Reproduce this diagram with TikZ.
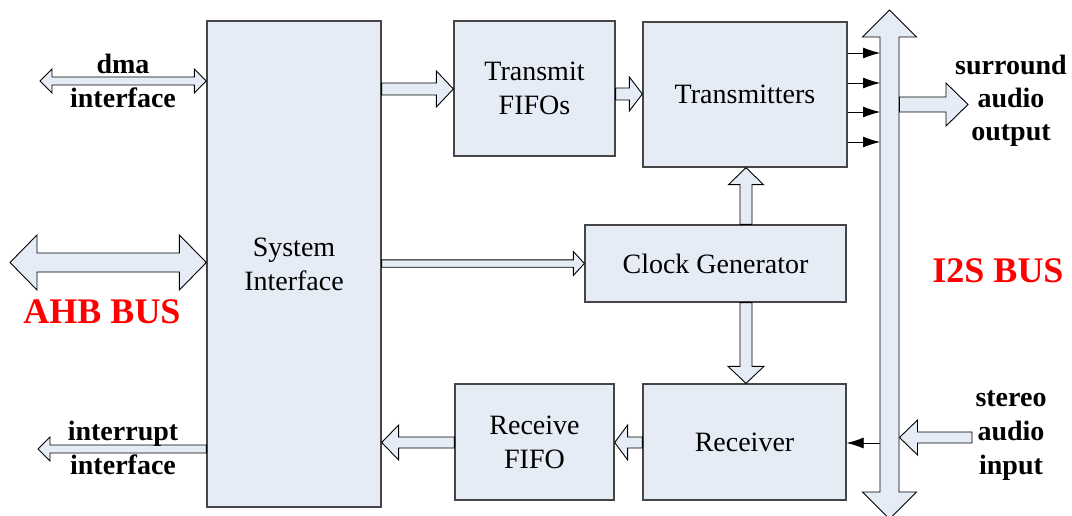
\documentclass[tikz,border=0pt]{standalone}
\usepackage{fontspec}
\setmainfont{Liberation Serif}
\usetikzlibrary{calc,arrows.meta}
\definecolor{boxfill}{RGB}{230,236,246}
\definecolor{boxline}{RGB}{70,70,70}
\definecolor{busred}{RGB}{255,0,0}
% hollow block arrow: from, to, half shaft, half head, head length
\newcommand\blkarrow[5]{%
  \coordinate (ba-s) at (#1); \coordinate (ba-e) at (#2);
  \coordinate (ba-h) at ($(ba-e)!#5!(ba-s)$);
  \filldraw[blkarr] ($(ba-s)!#3!90:(ba-e)$) -- ($(ba-h)!#3!90:(ba-e)$) -- ($(ba-h)!#4!90:(ba-e)$) -- (ba-e)
    -- ($(ba-h)!#4!-90:(ba-e)$) -- ($(ba-h)!#3!-90:(ba-e)$) -- ($(ba-s)!#3!-90:(ba-e)$) -- cycle;}
% hollow double arrow: end a, end b, half shaft, half head, head length
\newcommand\dblarrow[5]{%
  \coordinate (da-a) at (#1); \coordinate (da-b) at (#2);
  \coordinate (da-ha) at ($(da-a)!#5!(da-b)$); \coordinate (da-hb) at ($(da-b)!#5!(da-a)$);
  \filldraw[blkarr] (da-a) -- ($(da-ha)!#4!90:(da-b)$) -- ($(da-ha)!#3!90:(da-b)$) -- ($(da-hb)!#3!-90:(da-a)$)
    -- ($(da-hb)!#4!-90:(da-a)$) -- (da-b) -- ($(da-hb)!#4!90:(da-a)$) -- ($(da-hb)!#3!90:(da-a)$)
    -- ($(da-ha)!#3!-90:(da-b)$) -- ($(da-ha)!#4!-90:(da-b)$) -- cycle;}
\begin{document}
\begin{tikzpicture}[x=1pt, y=-1pt, line join=miter,
    blk/.style={draw=boxline, fill=boxfill, line width=1.3pt, align=center, inner sep=0pt, font=\fontsize{28}{34}\selectfont},
    blkarr/.style={draw=black, fill=boxfill, line width=0.9pt},
    lbl/.style={anchor=base, inner sep=0pt, font=\fontsize{28}{34}\selectfont\bfseries},
    buslbl/.style={text=busred, inner sep=0pt, font=\fontsize{36}{40}\selectfont\bfseries},
    sig/.style={-{Latex[length=17pt,width=11pt]}, line width=0.8pt}]
  \useasboundingbox (0,0) rectangle (1072,516);
  % blocks
  \node[blk, minimum width=174, minimum height=486] (sys) at (294,264) {System\\Interface};
  \node[blk, minimum width=161, minimum height=135] (tf) at (534.5,88.5) {Transmit\\FIFOs};
  \node[blk, minimum width=204, minimum height=145] (tr) at (745,94.5) {Transmitters};
  \node[blk, minimum width=261, minimum height=77] (clk) at (715.5,263.5) {Clock Generator};
  \node[blk, minimum width=159, minimum height=116] (rf) at (534.5,442) {Receive\\FIFO};
  \node[blk, minimum width=203, minimum height=116] (rx) at (744.5,442) {Receiver};
  % free ends
  \coordinate (ahbL) at (10,262.5);
  \coordinate (dmaL) at (40,81);
  \coordinate (intL) at (38,449);
  \coordinate (busT) at (889.5,10);
  \coordinate (busB) at (889.5,519);
  \coordinate (bus) at (880,0);
  \coordinate (busR) at (899.5,0);
  \coordinate (outT) at (968,104.5);
  \coordinate (inT) at (972,437.5);
  % left side
  \dblarrow{ahbL}{sys.west |- ahbL}{9.5pt}{27.5pt}{27pt}
  \dblarrow{dmaL}{sys.west |- dmaL}{4pt}{12pt}{12pt}
  \blkarrow{sys.west |- intL}{intL}{4pt}{12pt}{12pt}
  % data paths
  \blkarrow{sys.east |- 0,89}{tf.west |- 0,89}{6pt}{18pt}{17pt}
  \blkarrow{tf.east |- 0,94}{tr.west |- 0,94}{6pt}{17pt}{13pt}
  \blkarrow{sys.east |- clk}{clk.west}{3.7pt}{12pt}{11pt}
  \blkarrow{clk.north -| 746,0}{tr.south -| 746,0}{6pt}{17.5pt}{17pt}
  \blkarrow{clk.south -| 746,0}{rx.north -| 746,0}{6pt}{18pt}{17pt}
  \blkarrow{rx.west |- 0,442.5}{rf.east |- 0,442.5}{5.5pt}{17.5pt}{13pt}
  \blkarrow{rf.west |- 0,442.5}{sys.east |- 0,442.5}{5.5pt}{17.5pt}{17pt}
  % I2S bus
  \dblarrow{busT}{busB}{9.5pt}{27pt}{27pt}
  \foreach \y in {53,83,112,142}
    \draw[sig] (tr.east |- 0,\y) -- (bus |- 0,\y);
  \draw[sig] (bus |- 0,443) -- (rx.east |- 0,443);
  \blkarrow{busR |- outT}{outT}{7.5pt}{21.5pt}{22pt}
  \blkarrow{inT}{busR |- inT}{5.5pt}{17.5pt}{18pt}
  % labels
  \node[lbl] (dmaA) at (123,74) {dma};
  \node[lbl] (dmaB) at (123,108) {interface};
  \node[lbl] (intA) at (123,440) {interrupt};
  \node[lbl] (intB) at (123,474) {interface};
  \node[lbl] (outA) at (1011,75) {surround};
  \node[lbl] (outB) at (1011,108) {audio};
  \node[lbl] (outC) at (1011,141) {output};
  \node[lbl] (inA) at (1011,406) {stereo};
  \node[lbl] (inB) at (1011,440) {audio};
  \node[lbl] (inC) at (1011,474) {input};
  \node[buslbl] (ahb) at (102,312) {AHB BUS};
  \node[buslbl] (i2s) at (998,271) {I2S BUS};
\end{tikzpicture}
\end{document}
